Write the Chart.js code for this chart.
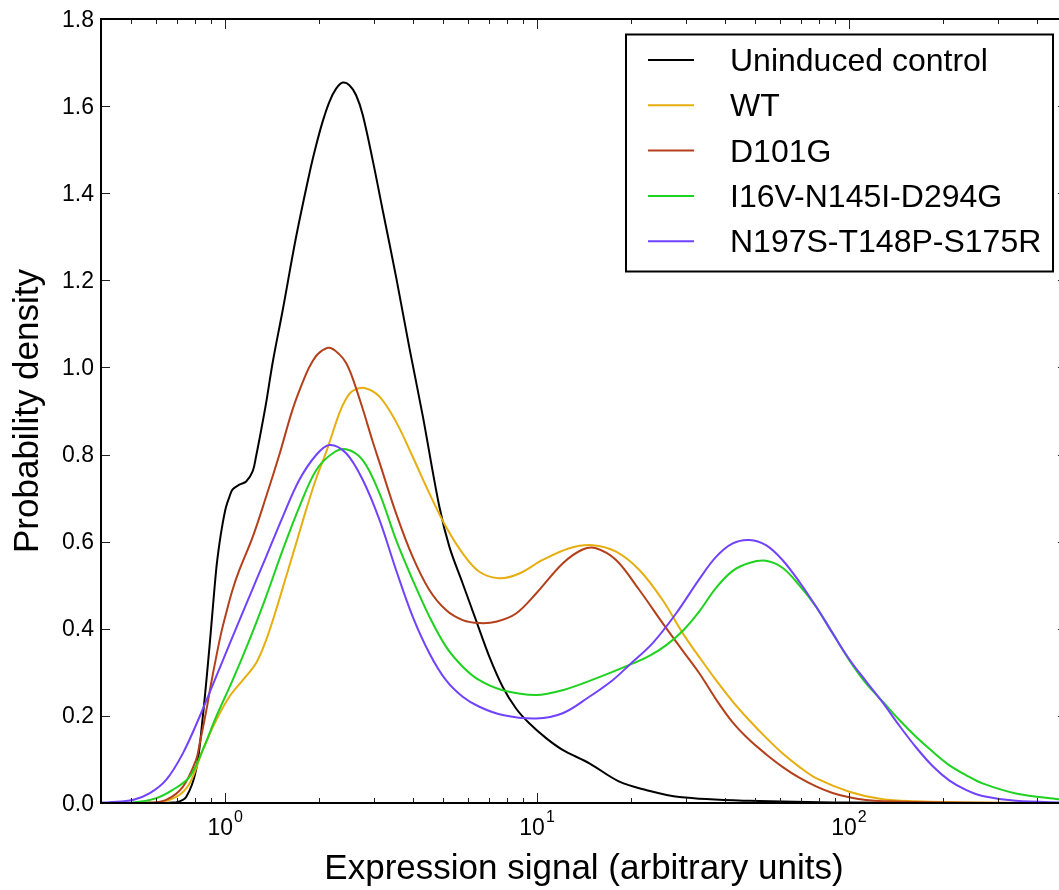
<!DOCTYPE html>
<html>
<head>
<meta charset="utf-8">
<title>Expression signal density</title>
<script src="https://cdn.jsdelivr.net/npm/chart.js@4.4.1/dist/chart.umd.min.js"></script>
<style>
  html, body { margin: 0; padding: 0; background: #fff; overflow: hidden; width: 1059px; height: 890px; }
  #wrap { position: absolute; left: 0; top: 0; width: 1080px; height: 890px; }
  canvas { display: block; }
</style>
</head>
<body>
<div id="wrap"><canvas id="c" width="1080" height="890" style="width:1080px;height:890px"></canvas></div>
<script>
// ---- series (expression signal, probability density) ----
const seriesLabels = ['Uninduced control', 'WT', 'D101G', 'I16V-N145I-D294G', 'N197S-T148P-S175R'];

const ctrlX = [0.4, 0.6, 0.697, 0.75, 0.807, 0.848, 0.891, 0.936, 0.959, 0.982, 1.007, 1.032, 1.057, 1.111, 1.168, 1.226, 1.256, 1.288, 1.353, 1.421, 1.53, 1.689, 1.864, 1.958, 2.055, 2.159, 2.269, 2.383, 2.503, 2.63, 2.761, 2.972, 3.2, 3.532, 3.897, 4.298, 4.863, 5.236, 5.776, 6.37, 7.03, 7.756, 8.564, 9.44, 10.69, 12.08, 14.71, 18.36, 22.35, 28.58, 47.9, 100, 500];
const ctrlY = [0, 0, 0.002, 0.014, 0.076, 0.198, 0.359, 0.535, 0.596, 0.642, 0.68, 0.703, 0.72, 0.731, 0.738, 0.762, 0.795, 0.835, 0.918, 1.012, 1.132, 1.3, 1.446, 1.51, 1.565, 1.61, 1.64, 1.654, 1.648, 1.625, 1.58, 1.476, 1.361, 1.208, 1.045, 0.89, 0.68, 0.588, 0.504, 0.42, 0.336, 0.267, 0.217, 0.183, 0.149, 0.122, 0.091, 0.049, 0.03, 0.014, 0.005, 0.001, 0];

const wtX = [0.4, 0.601, 0.697, 0.769, 0.848, 0.936, 1.032, 1.139, 1.256, 1.353, 1.456, 1.569, 1.689, 1.818, 1.958, 2.107, 2.324, 2.443, 2.564, 2.794, 3.125, 3.532, 3.993, 4.516, 5.106, 5.776, 6.531, 7.568, 8.776, 10.42, 12.7, 15.07, 17.92, 21.28, 25.27, 29.29, 33.13, 37.48, 42.39, 47.9, 54.2, 61.2, 69.3, 78.4, 100.2, 128.2, 164, 250, 500];
const wtY = [0, 0.001, 0.014, 0.045, 0.122, 0.19, 0.244, 0.282, 0.321, 0.374, 0.443, 0.52, 0.596, 0.673, 0.745, 0.805, 0.895, 0.928, 0.946, 0.953, 0.933, 0.875, 0.795, 0.711, 0.634, 0.573, 0.531, 0.516, 0.527, 0.558, 0.585, 0.592, 0.577, 0.535, 0.466, 0.39, 0.335, 0.282, 0.233, 0.19, 0.15, 0.114, 0.083, 0.057, 0.026, 0.0085, 0.004, 0.001, 0];

const d101gX = [0.4, 0.572, 0.647, 0.732, 0.807, 0.828, 0.869, 0.902, 0.936, 0.971, 1.007, 1.057, 1.111, 1.226, 1.353, 1.493, 1.648, 1.818, 1.909, 2.006, 2.159, 2.324, 2.443, 2.564, 2.761, 2.972, 3.125, 3.532, 3.993, 4.516, 5.106, 5.776, 6.531, 7.387, 8.564, 9.93, 12.08, 14.0, 15.45, 17.92, 21.28, 25.27, 29.29, 33.13, 37.48, 42.39, 47.9, 54.2, 61.2, 69.3, 78.4, 88.6, 100.2, 113.3, 128.2, 200, 500];
const d101gY = [0, 0.001, 0.007, 0.037, 0.099, 0.135, 0.21, 0.275, 0.335, 0.39, 0.435, 0.49, 0.535, 0.611, 0.703, 0.8, 0.905, 0.985, 1.015, 1.034, 1.045, 1.03, 1.01, 0.975, 0.905, 0.83, 0.782, 0.665, 0.565, 0.489, 0.443, 0.42, 0.413, 0.416, 0.435, 0.481, 0.55, 0.582, 0.585, 0.558, 0.489, 0.413, 0.35, 0.298, 0.238, 0.185, 0.145, 0.112, 0.083, 0.058, 0.038, 0.023, 0.013, 0.007, 0.004, 0.001, 0];

const tripleAX = [0.4, 0.506, 0.601, 0.679, 0.769, 0.848, 0.936, 1.057, 1.196, 1.353, 1.53, 1.73, 1.958, 2.213, 2.443, 2.761, 3.125, 3.532, 3.993, 4.516, 5.106, 5.776, 6.531, 7.756, 9.93, 12.08, 15.45, 19.77, 22.91, 25.9, 29.29, 33.13, 37.48, 42.39, 47.9, 54.2, 61.2, 69.3, 78.4, 88.6, 100.2, 113.3, 128.2, 144.9, 164, 185.3, 209.5, 237.1, 268, 342.8, 468.8, 500];
const tripleAY = [0, 0.001, 0.011, 0.03, 0.06, 0.122, 0.198, 0.282, 0.374, 0.474, 0.581, 0.68, 0.764, 0.803, 0.812, 0.787, 0.711, 0.604, 0.512, 0.428, 0.359, 0.313, 0.282, 0.259, 0.248, 0.259, 0.286, 0.317, 0.338, 0.362, 0.395, 0.44, 0.494, 0.533, 0.551, 0.556, 0.54, 0.5, 0.451, 0.39, 0.328, 0.275, 0.233, 0.191, 0.152, 0.118, 0.087, 0.064, 0.045, 0.022, 0.0085, 0.007];

const tripleBX = [0.4, 0.426, 0.506, 0.572, 0.647, 0.732, 0.828, 0.936, 1.057, 1.196, 1.353, 1.53, 1.73, 1.958, 2.159, 2.443, 2.761, 3.125, 3.532, 3.993, 4.516, 5.106, 5.776, 6.531, 7.756, 9.93, 12.08, 14.71, 17.47, 19.77, 23.48, 27.9, 33.13, 37.48, 42.39, 47.9, 54.2, 61.2, 69.3, 78.4, 88.6, 100.2, 113.3, 128.2, 144.9, 164, 185.3, 209.5, 237.1, 268, 342.8, 500];
const tripleBY = [0.001, 0.002, 0.007, 0.022, 0.053, 0.114, 0.198, 0.29, 0.382, 0.474, 0.565, 0.657, 0.742, 0.799, 0.822, 0.803, 0.742, 0.65, 0.535, 0.428, 0.344, 0.282, 0.244, 0.221, 0.202, 0.194, 0.206, 0.244, 0.282, 0.317, 0.367, 0.435, 0.514, 0.565, 0.596, 0.604, 0.592, 0.558, 0.508, 0.451, 0.39, 0.33, 0.28, 0.231, 0.178, 0.128, 0.085, 0.052, 0.03, 0.016, 0.005, 0.001];

// ---- axis ticks ----
const xMajorTicks = [1, 10, 100];
const xTickBases = ['10', '10', '10'];
const xTickExponents = ['0', '1', '2'];
const yTickValues = [0, 0.2, 0.4, 0.6, 0.8, 1.0, 1.2, 1.4, 1.6, 1.8];
const yTickLabels = ['0.0', '0.2', '0.4', '0.6', '0.8', '1.0', '1.2', '1.4', '1.6', '1.8'];
const xTitle = 'Expression signal (arbitrary units)';
const yTitle = 'Probability density';

// ---- styling ----
const lineColors = ['#000000', '#e6ae0e', '#b3401b', '#1fd21f', '#7142ff'];
const FONT = '"Liberation Sans", Arial, Helvetica, sans-serif';

const xs = [ctrlX, wtX, d101gX, tripleAX, tripleBX];
const ys = [ctrlY, wtY, d101gY, tripleAY, tripleBY];

const datasets = seriesLabels.map((label, i) => ({
  label,
  data: xs[i].map((v, k) => ({ x: v, y: ys[i][k] })),
  borderColor: lineColors[i],
  backgroundColor: lineColors[i],
  borderWidth: 2,
  pointRadius: 0,
  fill: false,
  tension: 0.35,
  order: -i
}));

// Frame, inward ticks, tick labels, axis titles and the boxed legend
const decorations = {
  id: 'decorations',
  afterDatasetsDraw(chart) {
    const { ctx, chartArea: a, scales: { x, y } } = chart;
    ctx.save();

    // minor and major ticks, pointing into the plot on all four sides
    ctx.strokeStyle = '#222';
    ctx.lineWidth = 1;
    ctx.beginPath();
    [0.1, 1, 10, 100].forEach(dec => {
      for (let m = 2; m <= 9; m++) {
        const v = m * dec;
        if (v <= x.min || v >= x.max) continue;
        const px = Math.round(x.getPixelForValue(v)) + 0.5;
        ctx.moveTo(px, a.bottom); ctx.lineTo(px, a.bottom - 5);
        ctx.moveTo(px, a.top); ctx.lineTo(px, a.top + 5);
      }
    });
    xMajorTicks.forEach(v => {
      const px = Math.round(x.getPixelForValue(v)) + 0.5;
      ctx.moveTo(px, a.bottom); ctx.lineTo(px, a.bottom - 10);
      ctx.moveTo(px, a.top); ctx.lineTo(px, a.top + 10);
    });
    yTickValues.forEach(v => {
      const py = Math.round(y.getPixelForValue(v)) + 0.5;
      ctx.moveTo(a.left, py); ctx.lineTo(a.left + 9, py);
      ctx.moveTo(a.right, py); ctx.lineTo(a.right - 9, py);
    });
    ctx.stroke();

    // axes box
    ctx.strokeStyle = '#000';
    ctx.lineWidth = 2;
    ctx.strokeRect(a.left, a.top, a.right - a.left, a.bottom - a.top);

    // y tick labels
    ctx.fillStyle = '#000';
    ctx.font = '23px ' + FONT;
    ctx.textAlign = 'right';
    ctx.textBaseline = 'alphabetic';
    yTickValues.forEach((v, i) => {
      ctx.fillText(yTickLabels[i], a.left - 7, y.getPixelForValue(v) + 7.5);
    });

    // x tick labels: base with raised exponent
    ctx.textAlign = 'left';
    xMajorTicks.forEach((v, i) => {
      const px = x.getPixelForValue(v);
      ctx.font = '23px ' + FONT;
      const wb = ctx.measureText(xTickBases[i]).width;
      ctx.font = '16px ' + FONT;
      const we = ctx.measureText(xTickExponents[i]).width;
      const start = px - (wb + 1 + we) / 2;
      ctx.font = '23px ' + FONT;
      ctx.fillText(xTickBases[i], start, a.bottom + 32);
      ctx.font = '16px ' + FONT;
      ctx.fillText(xTickExponents[i], start + wb + 1, a.bottom + 19);
    });

    // axis titles
    ctx.font = '35px ' + FONT;
    ctx.textAlign = 'center';
    ctx.fillText(xTitle, (a.left + a.right) / 2, a.bottom + 76);
    ctx.save();
    ctx.translate(38, (a.top + a.bottom) / 2);
    ctx.rotate(-Math.PI / 2);
    ctx.fillText(yTitle, 0, 0);
    ctx.restore();

    // legend box
    const box = { left: 626, top: 34.5, width: 427, height: 237 };
    ctx.fillStyle = '#fff';
    ctx.fillRect(box.left, box.top, box.width, box.height);
    ctx.strokeStyle = '#000';
    ctx.lineWidth = 2;
    ctx.strokeRect(box.left, box.top, box.width, box.height);
    ctx.font = '32px ' + FONT;
    ctx.textAlign = 'left';
    ctx.fillStyle = '#000';
    chart.data.datasets.forEach((ds, i) => {
      const rowY = 60 + i * 45.3;
      ctx.strokeStyle = ds.borderColor;
      ctx.lineWidth = 2;
      ctx.beginPath();
      ctx.moveTo(648, rowY); ctx.lineTo(694, rowY);
      ctx.stroke();
      ctx.fillText(ds.label, 730, rowY + 11);
    });

    ctx.restore();
  }
};

new Chart(document.getElementById('c'), {
  type: 'line',
  data: { datasets },
  options: {
    responsive: false,
    animation: false,
    devicePixelRatio: 1,
    layout: { padding: { left: 101, right: 13, top: 19, bottom: 87 } },
    plugins: { legend: { display: false }, tooltip: { enabled: false } },
    scales: {
      x: { type: 'logarithmic', min: 0.4, max: 500, display: false },
      y: { type: 'linear', min: 0, max: 1.8, display: false }
    }
  },
  plugins: [decorations]
});
</script>
</body>
</html>
